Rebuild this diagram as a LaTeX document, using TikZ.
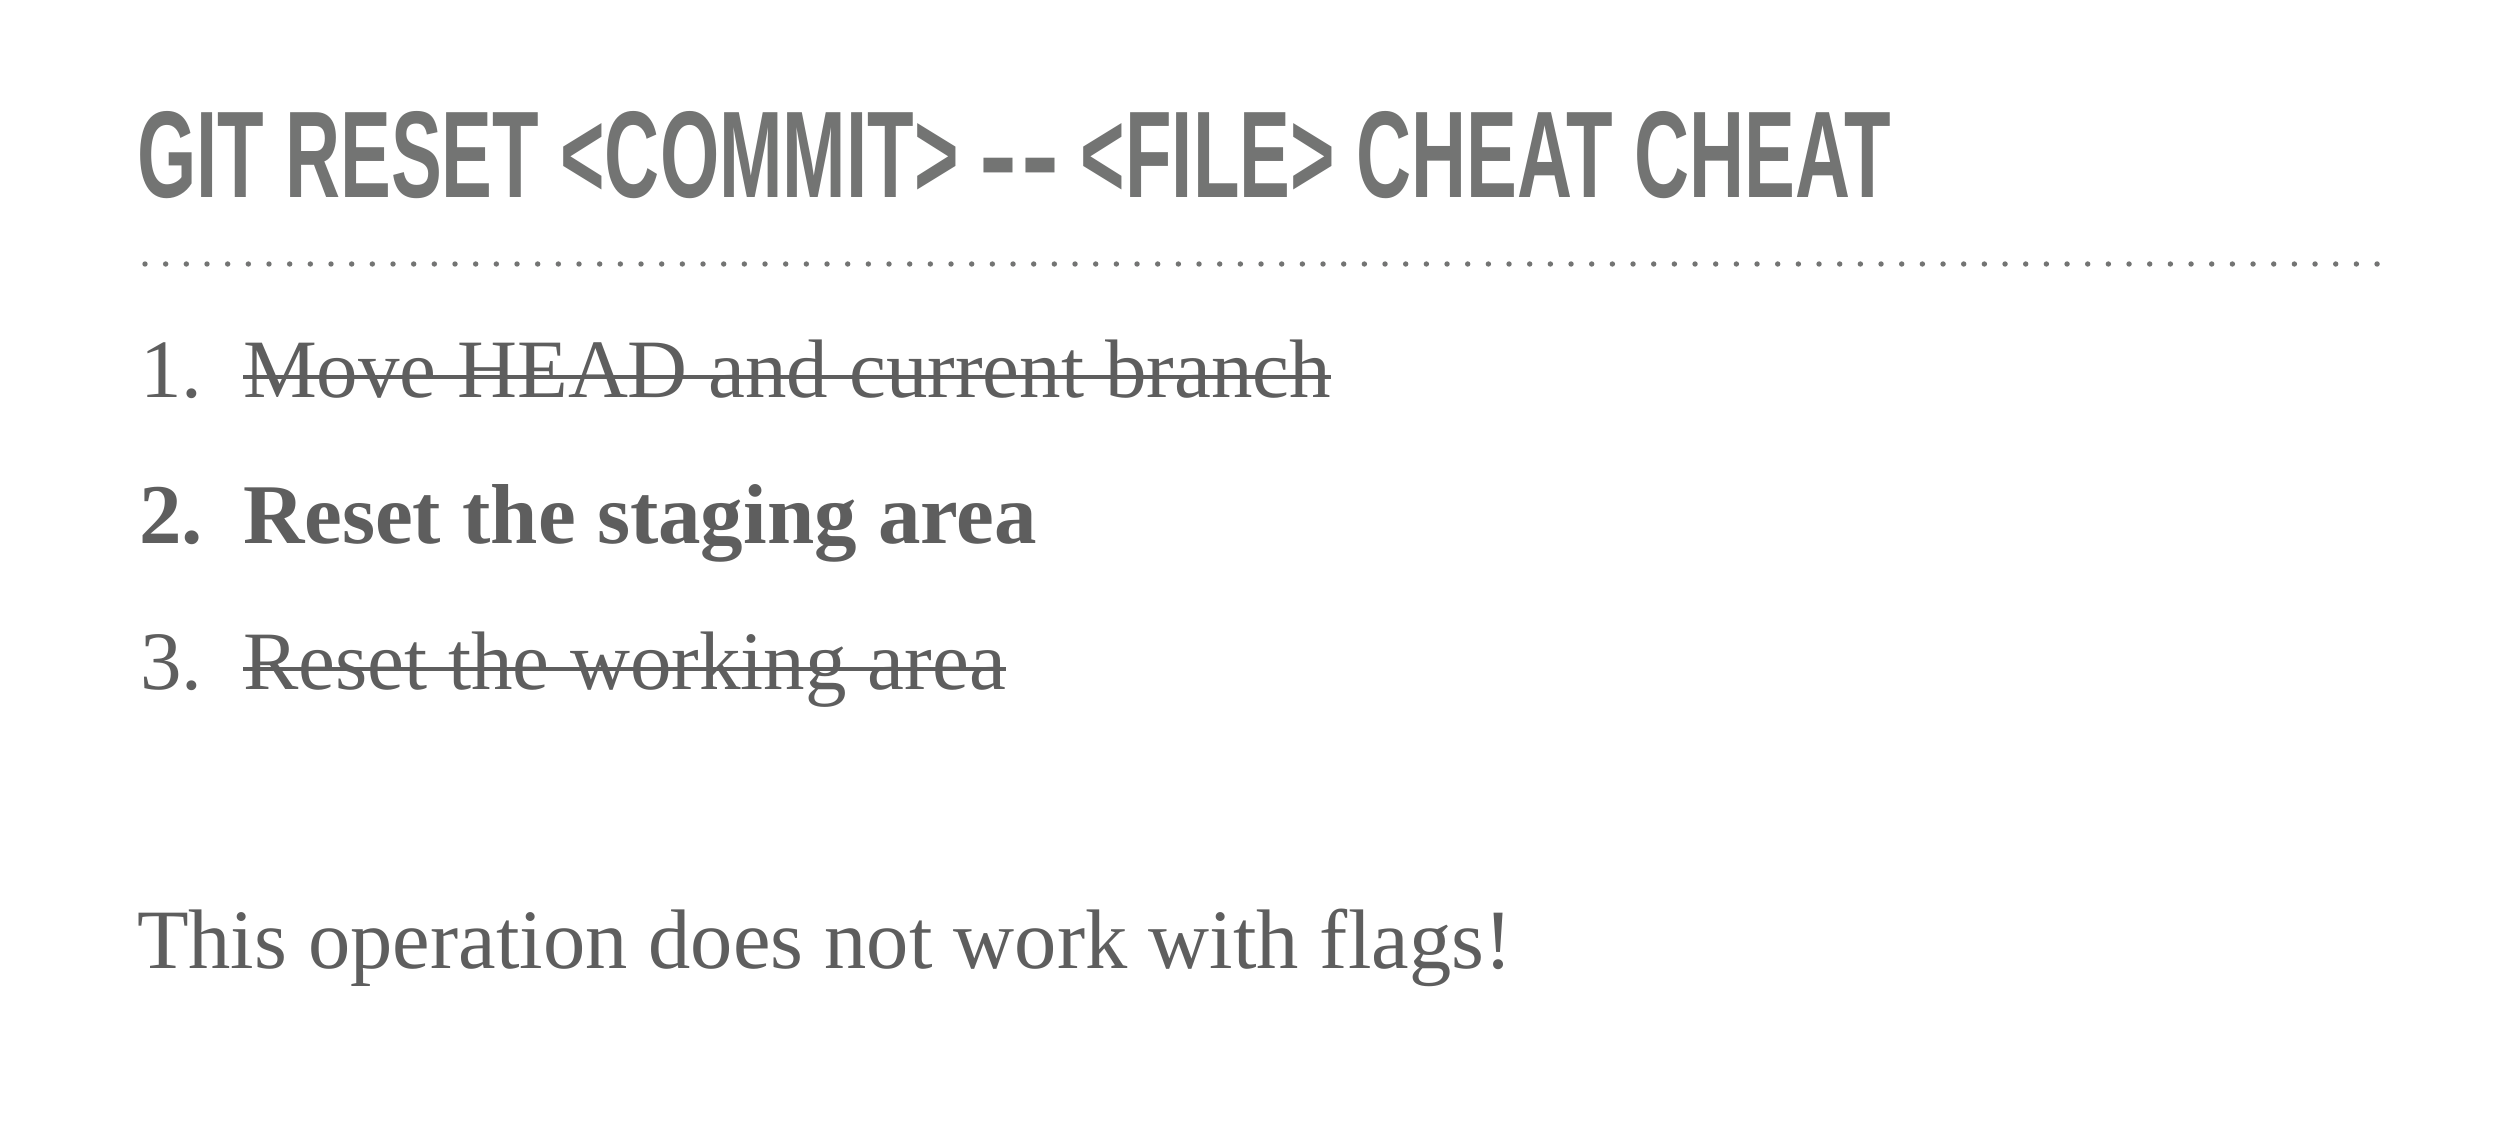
\documentclass[tikz,border=0pt]{standalone}
\usepackage{fontspec}
\setmainfont{Liberation Serif}
\newfontfamily\titlefont{Liberation Sans}
\definecolor{titlegray}{HTML}{737473}
\definecolor{bodygray}{HTML}{5E5E5E}
\begin{document}
\begin{tikzpicture}[x=1pt,y=-1pt,
  every node/.style={inner sep=0pt, outer sep=0pt},
  body/.style={anchor=base west, text=bodygray, font=\fontsize{83}{96}\selectfont},
  strikeline/.style={line width=3.2pt, draw=bodygray}]
\fill[white] (0,0) rectangle (2520,1126);
\path[use as bounding box] (0,0) rectangle (2520,1126);
% title
\node[anchor=base west, text=titlegray] (title) at (137,197)
  {\resizebox{1754pt}{86pt}{\titlefont\bfseries GIT RESET <COMMIT> \scalebox{1.5}[1]{-}\kern0.05em\scalebox{1.5}[1]{-} <FILE> CHEAT CHEAT}};
% dotted rule
\foreach \i in {0,...,108}
  \fill[titlegray] (145+\i*20.667,264) circle (2.7);
% items
\node[body] (n1) at (140,397) {1.};
\node[body] (t1) at (243,397) {Move HEAD and current branch};
\draw[strikeline] ([yshift=20pt]t1.base west) -- ([yshift=20pt]t1.base east);
\node[body, font=\fontsize{85}{96}\selectfont] (n2) at (139,543) {\bfseries 2.};
\node[body, font=\fontsize{85}{96}\selectfont] (t2) at (243,543) {\bfseries Reset the staging area};
\node[body] (n3) at (140,689) {3.};
\node[body] (t3) at (243,689) {Reset the working area};
\draw[strikeline] ([yshift=20pt]t3.base west) -- ([yshift=20pt]t3.base east);
% note
\node[body, font=\fontsize{84.5}{96}\selectfont] (note) at (137,968) {This operation does not work with flags!};
\end{tikzpicture}
\end{document}
